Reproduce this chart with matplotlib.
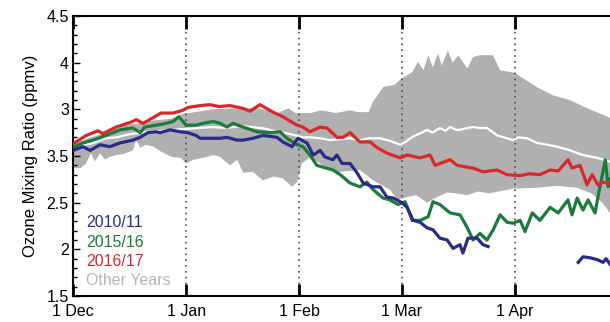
import numpy as np
import matplotlib
matplotlib.use("Agg")
import matplotlib.pyplot as plt
from matplotlib.ticker import MultipleLocator

plt.rcParams['font.family'] = ['Liberation Sans', 'DejaVu Sans']

# days since 1 Dec
month_days = [0, 31, 62, 90, 121]
month_labels = ['1 Dec', '1 Jan', '1 Feb', '1 Mar', '1 Apr']
ytick_vals = [1.5, 2, 2.5, 3, 3.5, 4, 4.5]
ytick_labels = ['1.5', '2', '2.5', '3.5', '3', '4', '4.5']

# 2016/17
red_d = [0, 3.6, 6.8, 8.2, 11.8, 16.4, 17.3, 19.2, 21.9, 24.1, 27.4, 30.1, 31.5, 34.8, 37.5,
         40, 43, 46.6, 48.5, 51.2, 54.8, 57.5, 61.4, 63, 64.9, 67.7, 69.6, 72.3, 74, 75.9,
         76.7, 78.6, 81.4, 83.3, 86, 89.6, 91.5, 95, 97.8, 99.2, 103.3, 105.2, 109.6, 112.3,
         116.2, 118.9, 122.5, 125, 127.9, 130.7, 132.9, 135.6, 136.7, 138.9, 140.8, 142.2,
         143.8, 145.2, 147.1]
red_v = [3.13, 3.22, 3.27, 3.24, 3.31, 3.37, 3.39, 3.35, 3.41, 3.46, 3.46, 3.49, 3.52, 3.54, 3.55,
         3.53, 3.54, 3.51, 3.48, 3.55, 3.47, 3.42, 3.33, 3.31, 3.26, 3.31, 3.30, 3.20, 3.20, 3.25,
         3.22, 3.15, 3.15, 3.09, 3.03, 2.98, 3.01, 2.98, 3.01, 2.90, 2.96, 2.90, 2.87, 2.83,
         2.85, 2.80, 2.79, 2.81, 2.80, 2.85, 2.84, 2.96, 2.87, 2.90, 2.69, 2.80,
         2.69, 2.72, 2.70]

# 2015/16
green_d = [0, 2.7, 5.5, 9, 12.9, 16.4, 18.4, 19.7, 22.7, 25.5, 27.4, 29, 31, 33.7, 35.6, 38.4,
           40.3, 42.2, 43.8, 46.6, 50.4, 54, 56.7, 58.6, 61.4, 63, 64.9, 66.8, 68.5, 71.2, 73.2,
           75.9, 78.6, 80.5, 82.2, 84.9, 86.8, 89, 91, 92.9, 95.1, 97.3, 98.6, 100.5, 103.3, 106,
           107.9, 109.6, 111.5, 113.4, 115.1, 117, 118.9, 120.5, 122.5, 123.8, 125.8, 127.9,
           130.7, 132.9, 135.6, 136.7, 138.1, 139.7, 141.1, 143, 143.8, 145.8, 146.6, 147.1]
green_v = [3.09, 3.14, 3.17, 3.22, 3.28, 3.30, 3.25, 3.31, 3.33, 3.35, 3.37, 3.42, 3.33, 3.33, 3.35, 3.37,
           3.35, 3.31, 3.35, 3.31, 3.26, 3.25, 3.26, 3.19, 3.12, 3.10, 3.01, 2.90, 2.88, 2.85, 2.80,
           2.71, 2.67, 2.72, 2.64, 2.55, 2.53, 2.48, 2.51, 2.31, 2.31, 2.35, 2.51, 2.48, 2.39, 2.37,
           2.24, 2.10, 2.17, 2.10, 2.21, 2.37, 2.29, 2.28, 2.31, 2.19, 2.39, 2.31,
           2.45, 2.39, 2.53, 2.37, 2.55, 2.42, 2.53, 2.39, 2.56, 2.96, 2.67, 2.75]

# 2010/11 (gap in April)
blue_d = [0, 2.7, 4.7, 7.4, 10.1, 12.9, 16.4, 18.4, 20.5, 22.7, 23.8, 26.6, 29.3, 31.5, 33.7,
          34.8, 37.5, 40.3, 42.2, 44.9, 46.6, 49.3, 52.1, 55.9, 57.5, 60, 61.6, 64.1, 65.8, 67.7,
          69, 71.2, 72.3, 73.7, 75.9, 77.8, 79.5, 82.2, 84.1, 86, 87.7, 90.1, 91.5, 93.2, 95.1,
          97, 98.6, 100.5, 102.5, 104.1, 106, 106.8, 108.2, 110.7, 112.3, 113.7, 125,
          138.4, 139.7, 141.6, 143.6, 145.2, 146, 147.1]
blue_v = [3.06, 3.10, 3.06, 3.12, 3.10, 3.14, 3.17, 3.20, 3.25, 3.26, 3.25, 3.28, 3.26, 3.25, 3.22,
          3.19, 3.19, 3.19, 3.20, 3.17, 3.17, 3.19, 3.22, 3.20, 3.15, 3.10, 3.19, 3.14, 3.01, 3.06,
          2.99, 2.96, 3.01, 2.92, 2.92, 2.82, 2.71, 2.67, 2.67, 2.56, 2.55, 2.50, 2.45, 2.31, 2.29,
          2.23, 2.21, 2.12, 2.10, 2.01, 2.05, 1.96, 2.12, 2.12, 2.05, 2.03, np.nan,
          1.86, 1.92, 1.91, 1.89, 1.86, 1.90, 1.84]

# other years: median (white) and range (gray)
med_d = [0, 2.5, 4.7, 7, 9, 12, 15, 18.4, 21, 24, 27.4, 31, 34, 38.4, 42, 46, 49.3, 53, 55.9, 59,
         63, 65, 67.7, 70.4, 73, 75.9, 78.6, 81, 84.1, 87, 89.6, 91, 93.2, 95, 97, 98.5, 100.5,
         102, 103.3, 105, 106, 108, 109.6, 111.5, 113.4, 116.2, 118, 120.5, 122, 124.4, 127.1,
         130, 132.6, 136.2, 139.7, 143.6, 147.1]
med_v = [3.10, 3.12, 3.13, 3.16, 3.19, 3.20, 3.23, 3.25, 3.26, 3.27, 3.28, 3.29, 3.30, 3.31, 3.30, 3.32,
         3.31, 3.29, 3.26, 3.24, 3.20, 3.20, 3.19, 3.17, 3.18, 3.19, 3.17, 3.19, 3.19, 3.16, 3.12,
         3.15, 3.21, 3.24, 3.28, 3.25, 3.30, 3.27, 3.31, 3.28, 3.28, 3.30, 3.31, 3.30, 3.30, 3.22,
         3.20, 3.17, 3.20, 3.19, 3.14, 3.12, 3.10, 3.06, 3.01, 2.98, 2.94]

up_d = [0, 5, 10, 13, 18, 22, 27, 30, 35, 38, 45, 51, 56, 59, 61, 65, 68, 72, 76, 78, 81, 82,
        85, 88, 90, 93, 94.5, 96, 97.3, 98.6, 100, 101, 102.7, 104, 105.5, 108, 109.6, 111.5,
        115, 117, 121, 127, 131.5, 136, 141, 147.1]
up_v = [3.13, 3.20, 3.26, 3.33, 3.35, 3.38, 3.40, 3.45, 3.48, 3.50, 3.51, 3.51, 3.46, 3.51, 3.46,
        3.46, 3.49, 3.46, 3.49, 3.47, 3.47, 3.57, 3.74, 3.76, 3.83, 3.90, 4.01, 3.92, 4.08, 3.95,
        4.10, 3.97, 4.13, 4.00, 4.08, 3.94, 4.06, 4.08, 4.08, 3.92, 3.89, 3.74, 3.65, 3.60, 3.51,
        3.41]

lo_d = [0, 2, 3.6, 4.9, 6, 7.4, 8.8, 10, 11.8, 13.7, 16.4, 17.3, 18.4, 20, 22, 24, 27, 29.6, 31,
        33, 35.6, 38.4, 40.3, 43, 45, 46.6, 49.3, 52, 55, 57.5, 60, 61.4, 62.7, 65, 67.7, 70.4,
        73, 78.6, 82.2, 86.8, 89, 91.5, 94, 97, 99.7, 102.5, 105, 108, 111, 114, 120.5, 127,
        132.6, 138, 142, 145, 147.1]
lo_v = [2.87, 2.87, 2.92, 3.03, 2.94, 3.03, 2.96, 2.99, 3.01, 3.02, 3.06, 3.17, 3.09, 3.12, 3.10,
        3.05, 2.99, 2.98, 2.92, 2.96, 2.98, 3.01, 2.99, 2.90, 2.96, 2.82, 2.83, 2.74, 2.78, 2.76,
        2.67, 2.72, 2.92, 2.99, 2.92, 2.85, 2.83, 2.85, 2.74, 2.64, 2.53, 2.56, 2.58, 2.50, 2.56,
        2.61, 2.60, 2.58, 2.62, 2.60, 2.65, 2.66, 2.68, 2.66, 2.60, 2.50, 2.39]

fig = plt.figure(figsize=(6.10, 3.22), dpi=100)
ax = fig.add_axes([73 / 610, 26 / 322, 537 / 610, 280 / 322])

ax.fill(np.r_[up_d, lo_d[::-1]], np.r_[up_v, lo_v[::-1]], color='#b0b0b0', lw=0, zorder=1)
ax.plot(med_d, med_v, color='white', lw=1.6, zorder=2)
ax.plot(green_d, green_v, color='#1c7a3a', lw=2.3, zorder=3)
ax.plot(blue_d, blue_v, color='#2c2a87', lw=2.3, zorder=3)
ax.plot(red_d, red_v, color='#d8282a', lw=2.3, zorder=4)

ax.set_xlim(0, 147.1)
ax.set_ylim(1.5, 4.5)
ax.set_xticks(month_days)
ax.set_xticklabels(month_labels, fontsize=11.5)
ax.set_yticks(ytick_vals)
ax.set_yticklabels(ytick_labels, fontsize=11.5)
ax.yaxis.set_minor_locator(MultipleLocator(0.1))
ax.tick_params(axis='x', direction='in', top=True, length=9, width=2, pad=6)
ax.tick_params(axis='y', which='major', direction='in', length=5, width=1, pad=3)
ax.tick_params(axis='y', which='minor', direction='in', length=3, width=1)
ax.set_axisbelow('line')
ax.grid(axis='x', color='#4d4d4d', linestyle=(0, (1, 2.5)), lw=1.2)
for s in ['left', 'bottom', 'top']:
    ax.spines[s].set_linewidth(1.5)
ax.spines['right'].set_visible(False)

ax.set_ylabel('Ozone Mixing Ratio (ppmv)', fontsize=12, labelpad=6)

legend_names = ['2010/11', '2015/16', '2016/17', 'Other Years']
legend_colors = ['#2c2a87', '#1c7a3a', '#d8282a', '#b5b5b5']
for i, (name, c) in enumerate(zip(legend_names, legend_colors)):
    ax.text(0.024, 0.261 - i * 0.069, name, color=c, fontsize=11.5,
            transform=ax.transAxes, va='center', ha='left')

fig.savefig('out.png', dpi=100)
